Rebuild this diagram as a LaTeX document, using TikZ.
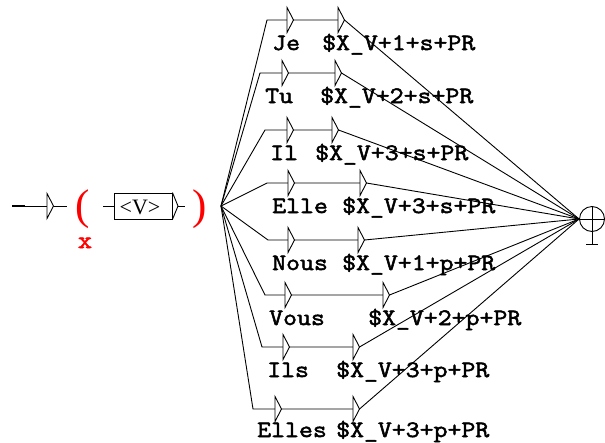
\documentclass[tikz,border=0pt]{standalone}
\usepackage{fontspec}
\newfontfamily\labfont{Latin Modern Mono}[FakeBold=2.2,FakeStretch=1.15]
\newfontfamily\serffont{Liberation Serif}
\definecolor{ctxred}{RGB}{255,0,0}
\begin{document}
\begin{tikzpicture}[x=1pt,y=-1pt,
  ln/.style={line width=0.9pt},
  lbl/.style={font=\labfont\fontsize{23.5}{24}\selectfont, anchor=base west, inner sep=0pt},
  ctx/.style={font=\serffont\fontsize{43}{44}\selectfont, text=ctxred, anchor=base, inner sep=0pt},
  pics/endtri/.style={code={\draw[ln,fill=white] (0,-12.5)--(0,12.5)--(6.5,0)--cycle;}}]
\useasboundingbox (0,0) rectangle (605,442);

% initial state
\coordinate (i0) at (12,206);
\coordinate (i0b) at (25,206);
\coordinate (i1) at (47,206);
\coordinate (i2) at (67,206);
\draw[line width=2.4pt] (i0) -- (i0b);
\draw[ln] (i0) -- (i2);
\pic at (i1) {endtri};

% context marks
\node[ctx] (lp) at (83,219) {(};
\node[font=\labfont\fontsize{24}{26}\selectfont, text=ctxred, anchor=base, inner sep=0pt] (xmark) at (85,248) {x};
\node[ctx] (rp) at (200,219) {)};

% <V> box
\node[draw, ln, minimum width=58pt, minimum height=26pt, inner sep=0pt] (vbox) at (143,206) {};
\node[font=\serffont\fontsize{22}{23}\selectfont, anchor=base, inner sep=0pt] (vtext) at (140,214) {<V>};
\coordinate (vl) at (103,206);
\coordinate (vtip) at (178,206);
\coordinate (vr) at (185,206);
\draw[ln] (vl) -- (vbox.west);
\draw[ln] (vbox.north east) -- (vtip) -- (vbox.south east);
\draw[ln] (vtip) -- (vr);

% final state
\node[circle, draw, ln, minimum size=25pt, inner sep=0pt] (fin) at (592,219) {};
\coordinate (fbot) at (592,244);
\coordinate (ftl) at (586,244);
\coordinate (ftr) at (598,244);
\draw[ln] (fin.west) -- (fin.east);
\draw[ln] (fin.north) -- (fbot);
\draw[ln] (ftl) -- (ftr);

\coordinate (fan) at (221,206);

\foreach \i/\y/\s/\a/\b/\la/\xa/\lb/\xb/\dy in {
  1/20/267/287/338/Je/272/{\$X\_V+1+s+PR}/322/30,
  2/73/260/282/335/Tu/265/{\$X\_V+2+s+PR}/320/30,
  3/130/265/287/332/Il/270/{\$X\_V+3+s+PR}/315/30,
  4/183/267/288/360/Elle/272/{\$X\_V+3+s+PR}/342/30,
  5/240/268/288/358/Nous/272/{\$X\_V+1+p+PR}/342/30,
  6/295/265/285/383/Vous/269/{\$X\_V+2+p+PR}/368/30,
  7/347/262/283/353/Ils/267/{\$X\_V+3+p+PR}/336/30,
  8/409/253/275/353/Elles/257/{\$X\_V+3+p+PR}/336/28}{
  \coordinate (s\i) at (\s,\y);
  \coordinate (a\i) at (\a,\y);
  \coordinate (b\i) at (\b,\y);
  \coordinate (bt\i) at (\b+6.5,\y);
  \draw[ln] (fan) -- (s\i) -- (b\i);
  \pic at (a\i) {endtri};
  \pic at (b\i) {endtri};
  \draw[ln] (bt\i) -- (fin.west);
  \node[lbl] (la\i) at (\xa,\y+\dy) {\la};
  \node[lbl] (lb\i) at (\xb,\y+\dy) {\lb};
}
\end{tikzpicture}
\end{document}
